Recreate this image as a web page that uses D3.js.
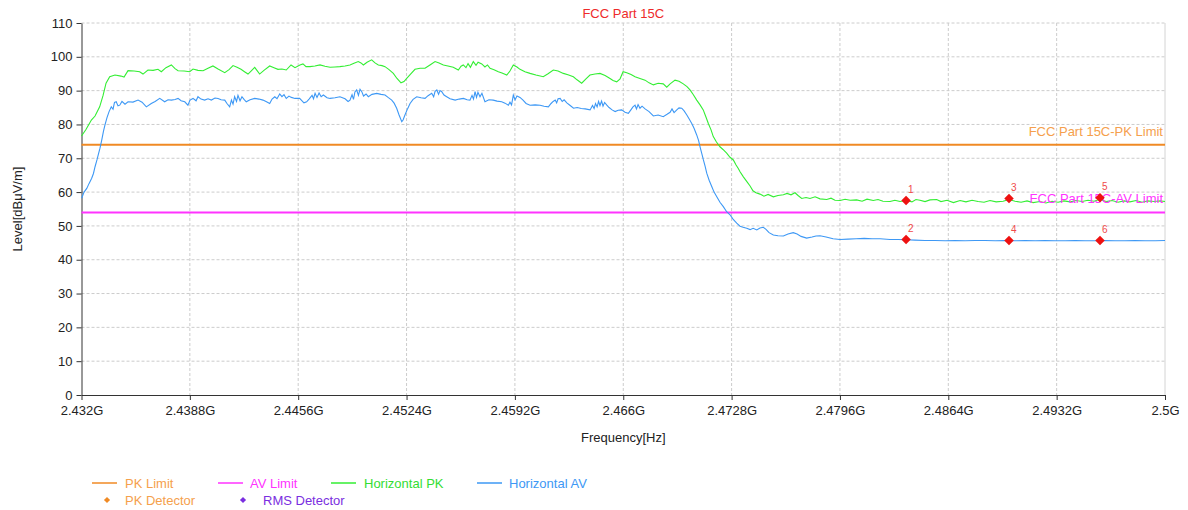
<!DOCTYPE html>
<html>
<head>
<meta charset="utf-8">
<script src="https://cdn.jsdelivr.net/npm/d3@7"></script>
<style>
  html, body { margin: 0; padding: 0; background: #fff; }
  svg { display: block; font-family: "Liberation Sans", Arial, sans-serif; }
</style>
</head>
<body>
<svg id="chart" width="1188" height="510"></svg>
<script>
// Sweep 2432 MHz .. 2500 MHz, levels in dBµV/m
const xTicksMHz = [2432, 2438.8, 2445.6, 2452.4, 2459.2, 2466, 2472.8, 2479.6, 2486.4, 2493.2, 2500];
const xTickLabels = ["2.432G", "2.4388G", "2.4456G", "2.4524G", "2.4592G", "2.466G", "2.4728G", "2.4796G", "2.4864G", "2.4932G", "2.5G"];
const yTicks = [0, 10, 20, 30, 40, 50, 60, 70, 80, 90, 100, 110];

const pkLimit = 74;
const avLimit = 54;

// Horizontal PK trace
const pkFreq = [2432.00,2432.28,2432.62,2432.85,2433.14,2433.35,2433.54,2433.77,2434.10,2434.48,2434.67,2434.92,2435.30,2435.65,2435.86,2436.17,2436.49,2436.80,2437.01,2437.30,2437.64,2437.87,2438.06,2438.44,2438.79,2439.00,2439.31,2439.63,2439.94,2440.25,2440.57,2440.99,2441.26,2441.51,2441.76,2442.01,2442.23,2442.45,2442.64,2442.87,2443.01,2443.18,2443.45,2443.81,2444.08,2444.33,2444.58,2444.85,2445.15,2445.40,2445.71,2445.90,2446.09,2446.34,2446.65,2446.97,2447.28,2447.60,2447.91,2448.22,2448.54,2448.85,2449.10,2449.37,2449.54,2449.69,2449.92,2450.21,2450.42,2450.63,2450.86,2451.05,2451.30,2451.57,2451.80,2452.05,2452.24,2452.41,2452.68,2452.93,2453.25,2453.56,2453.87,2454.19,2454.44,2454.71,2455.00,2455.33,2455.65,2455.82,2455.96,2456.13,2456.26,2456.41,2456.59,2456.76,2456.89,2457.12,2457.32,2457.48,2457.64,2457.89,2458.16,2458.39,2458.69,2458.89,2459.10,2459.33,2459.52,2459.83,2460.15,2460.52,2460.98,2461.28,2461.61,2461.91,2462.24,2462.53,2462.87,2463.10,2463.39,2463.66,2463.91,2464.23,2464.54,2464.86,2465.17,2465.36,2465.59,2465.80,2465.99,2466.22,2466.49,2466.74,2467.05,2467.37,2467.62,2467.89,2468.19,2468.51,2468.73,2468.94,2469.25,2469.50,2469.77,2470.00,2470.19,2470.40,2470.61,2470.82,2471.02,2471.19,2471.34,2471.51,2471.65,2471.85,2472.07,2472.26,2472.49,2472.70,2472.91,2473.08,2473.22,2473.33,2473.54,2473.77,2473.96,2474.14,2474.33,2474.58,2474.83,2475.09,2475.42,2475.71,2476.05,2476.28,2476.53,2476.78,2476.97,2477.20,2477.47,2477.72,2478.04,2478.35,2478.77,2479.04,2479.29,2479.61,2479.92,2480.24,2480.65,2480.99,2481.30,2481.69,2481.99,2482.30,2482.74,2483.05,2483.37,2483.75,2484.12,2484.37,2484.62,2484.94,2485.25,2485.67,2485.94,2486.32,2486.72,2487.14,2487.51,2487.89,2488.27,2488.64,2489.02,2489.40,2489.84,2490.21,2490.59,2490.97,2491.34,2491.72,2492.16,2492.53,2492.91,2493.29,2493.66,2494.04,2494.42,2494.79,2495.17,2495.55,2495.92,2496.30,2496.68,2497.05,2497.43,2497.80,2498.18,2498.56,2498.93,2499.31,2499.69,2500.00];
const pkLevel = [76.6,78.5,81.3,82.5,85.2,88.5,92.2,94.1,94.6,94.3,94.0,95.9,95.8,95.6,94.9,96.1,96.0,96.3,95.6,96.8,97.6,96.5,95.9,95.8,95.6,96.4,96.0,95.9,96.6,97.3,96.4,95.3,96.2,97.4,96.9,96.3,95.6,94.9,95.8,96.9,96.0,94.9,96.0,97.3,96.8,96.3,96.4,96.1,97.6,96.8,97.6,97.9,97.1,97.1,97.3,97.6,97.2,96.9,97.0,97.1,97.3,97.6,98.1,98.6,98.2,97.6,98.4,99.1,98.2,97.6,97.4,97.1,96.2,95.1,93.6,92.3,92.7,93.6,95.0,96.3,96.6,96.6,97.6,98.6,98.2,97.6,97.3,96.9,96.1,97.2,97.6,96.8,98.0,96.9,98.6,97.5,98.4,97.9,97.0,97.6,96.6,96.2,95.6,95.2,94.6,95.8,97.6,97.0,96.3,95.6,95.1,94.6,94.1,95.0,96.1,95.8,95.1,94.7,94.1,93.2,92.2,93.5,94.6,94.9,95.1,94.5,93.6,93.0,92.6,93.5,95.6,95.3,94.8,94.1,93.6,93.1,92.3,91.7,92.2,92.0,91.0,92.0,93.1,92.8,92.0,91.2,90.2,88.8,87.2,85.8,84.3,82.2,80.3,78.4,76.4,74.8,73.4,72.6,71.5,70.3,69.5,68.0,67.0,66.0,64.5,63.0,61.8,60.4,59.8,59.4,58.8,59.3,58.6,59.0,59.2,59.6,59.2,59.8,59.0,58.1,58.4,58.1,58.6,58.0,57.8,58.2,57.6,57.5,57.9,57.6,57.7,57.3,57.9,57.5,57.8,57.3,57.2,57.6,57.2,57.5,57.1,57.8,57.6,57.2,57.7,57.8,57.2,57.6,56.9,57.5,57.1,57.6,57.2,57.0,57.5,57.1,57.3,57.8,57.3,57.0,57.4,56.9,57.2,56.8,57.3,57.0,57.4,57.1,57.5,57.2,57.6,57.3,57.9,57.2,57.5,57.0,57.4,57.1,57.5,57.0,57.4,57.2,57.4,57.2];

// Horizontal AV trace
const avFreq = [2432.01,2432.16,2432.33,2432.47,2432.64,2432.75,2432.85,2432.97,2433.05,2433.16,2433.27,2433.38,2433.47,2433.60,2433.73,2433.87,2433.98,2434.07,2434.18,2434.29,2434.40,2434.54,2434.73,2434.92,2435.23,2435.55,2435.80,2436.07,2436.38,2436.62,2436.91,2437.22,2437.43,2437.64,2437.87,2438.06,2438.25,2438.48,2438.68,2438.81,2439.00,2439.19,2439.31,2439.50,2439.73,2439.94,2440.15,2440.38,2440.57,2440.76,2440.99,2441.13,2441.30,2441.41,2441.51,2441.61,2441.73,2441.82,2441.95,2442.07,2442.20,2442.34,2442.58,2442.87,2443.14,2443.39,2443.61,2443.81,2443.96,2444.13,2444.27,2444.44,2444.58,2444.71,2444.85,2445.02,2445.17,2445.40,2445.69,2445.96,2446.13,2446.28,2446.47,2446.56,2446.66,2446.78,2446.91,2447.04,2447.18,2447.41,2447.60,2447.91,2448.22,2448.54,2448.73,2448.85,2448.98,2449.07,2449.16,2449.27,2449.38,2449.48,2449.59,2449.70,2449.86,2450.00,2450.23,2450.53,2450.80,2451.05,2451.24,2451.47,2451.62,2451.78,2451.93,2452.10,2452.18,2452.30,2452.46,2452.62,2452.81,2453.04,2453.31,2453.56,2453.75,2453.98,2454.10,2454.19,2454.30,2454.41,2454.50,2454.61,2454.75,2454.92,2455.13,2455.45,2455.70,2455.97,2456.20,2456.38,2456.51,2456.60,2456.70,2456.79,2456.88,2457.01,2457.13,2457.32,2457.57,2457.84,2458.08,2458.37,2458.58,2458.79,2458.89,2458.99,2459.10,2459.21,2459.33,2459.52,2459.71,2459.90,2460.15,2460.47,2460.78,2461.03,2461.30,2461.47,2461.60,2461.73,2461.82,2461.91,2462.04,2462.17,2462.29,2462.46,2462.67,2462.88,2463.11,2463.36,2463.61,2463.92,2464.07,2464.17,2464.26,2464.36,2464.45,2464.54,2464.64,2464.73,2464.83,2464.97,2465.11,2465.30,2465.49,2465.68,2465.90,2466.11,2466.32,2466.49,2466.61,2466.74,2466.83,2466.93,2467.05,2467.18,2467.37,2467.62,2467.89,2468.19,2468.51,2468.75,2468.94,2469.06,2469.19,2469.36,2469.50,2469.67,2469.82,2469.99,2470.13,2470.30,2470.45,2470.61,2470.73,2470.82,2470.93,2471.03,2471.14,2471.24,2471.39,2471.56,2471.70,2471.87,2472.07,2472.28,2472.49,2472.70,2472.89,2473.12,2473.33,2473.52,2473.75,2473.96,2474.15,2474.38,2474.58,2474.79,2474.96,2475.15,2475.42,2475.71,2476.05,2476.34,2476.67,2476.91,2477.16,2477.51,2477.85,2478.10,2478.35,2478.73,2479.17,2479.61,2480.11,2480.61,2481.12,2481.62,2482.12,2482.74,2483.25,2483.75,2484.31,2484.94,2485.57,2486.20,2486.82,2487.45,2488.08,2488.71,2489.34,2489.96,2490.59,2491.22,2491.85,2492.47,2493.10,2493.73,2494.36,2494.98,2495.61,2496.24,2496.87,2497.49,2498.12,2498.75,2499.38,2500.00];
const avLevel = [58.2,60.0,61.1,62.5,64.1,65.5,67.5,69.5,71.0,73.0,75.4,78.0,79.8,82.0,83.8,85.2,84.5,86.5,86.7,85.5,85.7,86.8,86.0,86.7,86.6,87.2,86.6,85.2,86.2,86.8,87.7,86.7,87.3,87.2,87.4,87.7,87.0,86.7,85.7,87.2,87.7,87.0,88.2,87.5,87.2,87.6,87.2,87.8,87.7,87.3,87.2,86.2,85.2,87.2,86.0,88.2,86.8,88.6,87.0,88.2,87.4,86.7,87.3,87.7,87.5,87.2,86.7,86.2,87.5,88.2,87.6,89.0,88.2,88.8,87.7,88.4,88.0,87.7,87.7,86.4,86.7,87.5,88.6,87.6,89.2,88.0,89.3,88.2,88.7,87.9,87.7,87.9,88.2,87.6,86.8,87.2,88.8,87.4,89.6,90.2,88.6,90.4,89.7,88.4,89.0,88.2,88.9,89.2,88.9,88.7,88.0,87.2,86.3,84.8,82.8,80.8,81.3,82.8,84.6,86.2,87.4,88.2,87.9,87.7,88.5,89.2,88.2,89.8,90.2,88.9,90.0,89.7,88.7,88.2,87.6,87.2,87.5,87.7,87.3,87.2,88.6,87.5,89.7,88.0,89.5,88.2,89.2,86.7,87.3,87.2,86.9,86.7,86.3,85.7,86.6,85.8,88.7,87.3,88.4,88.0,87.2,86.2,85.7,85.8,85.7,85.4,85.2,86.2,86.8,87.2,86.4,87.6,87.7,86.8,87.3,86.4,85.6,84.8,85.0,84.7,84.6,84.3,85.6,84.7,86.2,85.2,86.8,85.6,86.9,85.4,86.5,85.7,85.0,84.3,83.8,84.2,84.3,83.6,83.3,84.4,85.2,85.7,84.6,85.9,84.8,85.4,84.6,83.8,82.5,82.8,82.3,83.0,83.6,84.6,83.5,84.3,84.9,84.8,84.0,82.8,81.7,80.3,78.8,76.9,75.2,73.4,71.4,69.5,67.6,65.6,63.5,61.6,60.0,58.6,57.0,55.7,54.2,53.3,52.0,50.8,49.9,49.6,49.3,48.9,49.3,48.8,49.4,49.6,49.0,48.0,47.3,47.1,47.0,47.6,48.0,47.6,46.9,46.4,46.7,47.0,47.1,46.7,46.2,46.0,46.1,46.2,46.3,46.2,46.2,46.0,46.0,45.9,45.8,45.7,45.7,45.6,45.7,45.6,45.7,45.7,45.6,45.7,45.6,45.7,45.6,45.7,45.6,45.6,45.7,45.6,45.6,45.7,45.6,45.6,45.7,45.6,45.6,45.7];

// Detector markers
const markerIds = ["1", "2", "3", "4", "5", "6"];
const markerFreq = [2483.75, 2483.75, 2490.21, 2490.21, 2495.92, 2495.92];
const markerLevel = [57.5, 46.0, 58.1, 45.7, 58.3, 45.7];

const legendLabels = ["PK Limit", "AV Limit", "Horizontal PK", "Horizontal AV", "PK Detector", "RMS Detector"];

const colors = {
  pkLimit: "#f08a24",
  pkLimitText: "#f5a04c",
  avLimit: "#ff33ff",
  pk: "#33ee33",
  pkText: "#33dd33",
  av: "#3d98f5",
  marker: "#ee1111",
  markerText: "#f04a4a",
  rms: "#7a2ee0",
  title: "#ee2a2a",
  axis: "#333333",
  grid: "#cccccc"
};

const FONT = 13;

const svg = d3.select("#chart");
const m = { left: 81.5, right: 1165, top: 23, bottom: 395 };

const x = d3.scaleLinear().domain([2432, 2500]).range([m.left, m.right]);
const y = d3.scaleLinear().domain([0, 110]).range([m.bottom, m.top]);

// Grid
const grid = svg.append("g");
grid.selectAll("line.v").data(xTicksMHz.slice(1, -1)).join("line")
  .attr("x1", d => x(d)).attr("x2", d => x(d))
  .attr("y1", m.top).attr("y2", m.bottom)
  .attr("stroke", colors.grid).attr("stroke-dasharray", "3,2");
grid.selectAll("line.h").data(yTicks.slice(1)).join("line")
  .attr("x1", m.left).attr("x2", m.right)
  .attr("y1", d => y(d)).attr("y2", d => y(d))
  .attr("stroke", colors.grid).attr("stroke-dasharray", "3,2");
grid.append("line")
  .attr("x1", m.right).attr("x2", m.right).attr("y1", m.top).attr("y2", m.bottom)
  .attr("stroke", "#d4d4d4");

// Axes
const xAxis = d3.axisBottom(x).tickValues(xTicksMHz)
  .tickFormat((d, i) => xTickLabels[i]).tickSize(5).tickSizeOuter(0);
const yAxis = d3.axisLeft(y).tickValues(yTicks).tickSize(5).tickSizeOuter(0);

const gx = svg.append("g").attr("transform", `translate(0,${m.bottom})`).call(xAxis);
const gy = svg.append("g").attr("transform", `translate(${m.left},0)`).call(yAxis);
[gx, gy].forEach(g => {
  g.select(".domain").attr("stroke", colors.axis);
  g.selectAll(".tick line").attr("stroke", colors.axis);
  g.selectAll(".tick text").attr("fill", "#222").attr("font-size", FONT)
    .attr("font-family", "Liberation Sans, Arial, sans-serif");
});
gx.selectAll(".tick text").attr("dy", "0.9em");
gy.selectAll(".tick text").attr("dx", "-1");

// Limit lines
svg.append("line").attr("x1", m.left).attr("x2", m.right)
  .attr("y1", y(pkLimit)).attr("y2", y(pkLimit))
  .attr("stroke", colors.pkLimit).attr("stroke-width", 2);
svg.append("line").attr("x1", m.left).attr("x2", m.right)
  .attr("y1", y(avLimit)).attr("y2", y(avLimit))
  .attr("stroke", colors.avLimit).attr("stroke-width", 2);

// Traces
const line = d3.line().x(d => x(d[0])).y(d => y(d[1]));
svg.append("path").datum(d3.zip(pkFreq, pkLevel))
  .attr("d", line).attr("fill", "none").attr("stroke", colors.pk).attr("stroke-width", 1.1);
svg.append("path").datum(d3.zip(avFreq, avLevel))
  .attr("d", line).attr("fill", "none").attr("stroke", colors.av).attr("stroke-width", 1.1);

// Limit labels
svg.append("text").attr("x", m.right - 2).attr("y", y(pkLimit) - 9)
  .attr("text-anchor", "end").attr("font-size", FONT).attr("fill", colors.pkLimitText)
  .text("FCC Part 15C-PK Limit");
svg.append("text").attr("x", m.right - 2).attr("y", y(avLimit) - 9)
  .attr("text-anchor", "end").attr("font-size", FONT).attr("fill", colors.avLimit)
  .text("FCC Part 15C-AV Limit");

// Markers
const diamond = d3.symbol().type(d3.symbolDiamond2).size(58);
const mk = svg.append("g").selectAll("g").data(markerIds).join("g")
  .attr("transform", (d, i) => `translate(${x(markerFreq[i])},${y(markerLevel[i])})`);
mk.append("path").attr("d", diamond).attr("fill", colors.marker);
mk.append("text").attr("x", 2).attr("y", -7.5).attr("font-size", 10)
  .attr("fill", colors.markerText).text(d => d);

// Title and axis labels
svg.append("text").attr("x", (m.left + m.right) / 2).attr("y", 18)
  .attr("text-anchor", "middle").attr("font-size", FONT).attr("fill", colors.title)
  .text("FCC Part 15C");
svg.append("text").attr("x", (m.left + m.right) / 2).attr("y", 442)
  .attr("text-anchor", "middle").attr("font-size", FONT).attr("fill", "#222")
  .text("Frequency[Hz]");
svg.append("text").attr("transform", `translate(22,${(m.top + m.bottom) / 2}) rotate(-90)`)
  .attr("text-anchor", "middle").attr("font-size", FONT).attr("fill", "#222")
  .text("Level[dBμV/m]");

// Legend
const lg = svg.append("g");
const lineItems = [
  { lx: 92, tx: 125, c: colors.pkLimit, tc: colors.pkLimitText, label: legendLabels[0] },
  { lx: 218, tx: 250, c: colors.avLimit, tc: colors.avLimit, label: legendLabels[1] },
  { lx: 331, tx: 364, c: colors.pk, tc: colors.pkText, label: legendLabels[2] },
  { lx: 477, tx: 509, c: colors.av, tc: colors.av, label: legendLabels[3] }
];
lineItems.forEach(it => {
  lg.append("line").attr("x1", it.lx).attr("x2", it.lx + 25)
    .attr("y1", 483).attr("y2", 483).attr("stroke", it.c).attr("stroke-width", 1.5);
  lg.append("text").attr("x", it.tx).attr("y", 487.5).attr("font-size", FONT)
    .attr("fill", it.tc).text(it.label);
});
const dotItems = [
  { dx: 107, tx: 125, c: colors.pkLimit, tc: colors.pkLimitText, label: legendLabels[4] },
  { dx: 243, tx: 263, c: colors.rms, tc: colors.rms, label: legendLabels[5] }
];
dotItems.forEach(it => {
  lg.append("path").attr("d", d3.symbol().type(d3.symbolDiamond2).size(24))
    .attr("transform", `translate(${it.dx},500)`).attr("fill", it.c);
  lg.append("text").attr("x", it.tx).attr("y", 504.5).attr("font-size", FONT)
    .attr("fill", it.tc).text(it.label);
});
</script>
</body>
</html>
